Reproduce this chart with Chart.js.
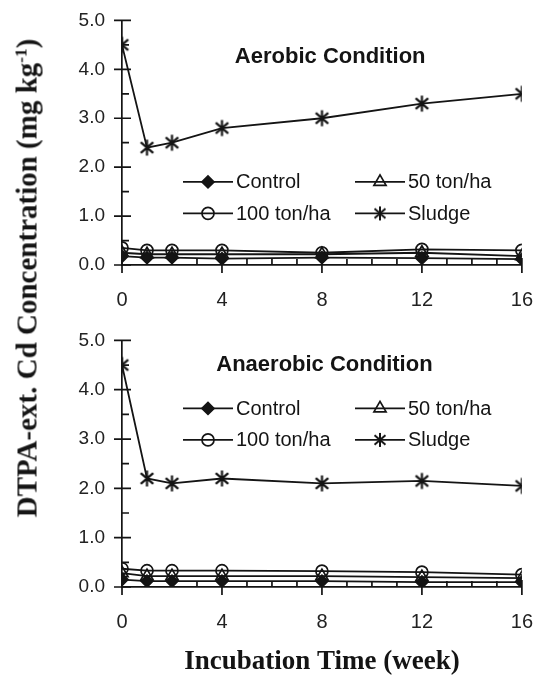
<!DOCTYPE html>
<html><head><meta charset="utf-8">
<script src="https://cdn.jsdelivr.net/npm/chart.js@4.4.0/dist/chart.umd.min.js"></script>
<style>
html,body{margin:0;padding:0;background:#fff;}
#wrap{position:relative;width:548px;height:679px;overflow:hidden;background:#fff;}
#c1{position:absolute;left:0;top:0;}
#c2{position:absolute;left:0;top:320px;}
#ytitle{position:absolute;left:27px;top:278px;transform:translate(-50%,-50%) rotate(-90deg);white-space:nowrap;font-family:'Liberation Serif','Times New Roman',serif;font-weight:bold;font-size:29px;line-height:1;color:#151515;}
#ytitle sup{font-size:0.6em;vertical-align:0.6em;line-height:0;}
</style></head>
<body>
<div id="wrap">
<canvas id="c1" width="548" height="320"></canvas>
<canvas id="c2" width="548" height="359"></canvas>
<div id="ytitle">DTPA-ext. Cd Concentration (mg kg<sup>-1</sup>)</div>
</div>
<script>
// ---- data ----
const weeks = [0, 1, 2, 4, 8, 12, 16];
const seriesLabels = ['Control', '50 ton/ha', '100 ton/ha', 'Sludge'];
const xTickValues = [0, 4, 8, 12, 16];
const yTickValues = [0, 1, 2, 3, 4, 5];
const panelTitles = ['Aerobic Condition', 'Anaerobic Condition'];
const xAxisTitle = 'Incubation Time (week)';

const aerobicControl = [0.18, 0.15, 0.15, 0.13, 0.15, 0.14, 0.12];
const aerobic50 = [0.25, 0.22, 0.22, 0.22, 0.22, 0.25, 0.18];
const aerobic100 = [0.35, 0.30, 0.30, 0.30, 0.25, 0.32, 0.30];
const aerobicSludge = [4.5, 2.4, 2.5, 2.8, 3.0, 3.3, 3.5];

const anaerobicControl = [0.15, 0.12, 0.12, 0.12, 0.12, 0.10, 0.10];
const anaerobic50 = [0.28, 0.22, 0.22, 0.22, 0.22, 0.20, 0.18];
const anaerobic100 = [0.37, 0.33, 0.33, 0.33, 0.32, 0.30, 0.25];
const anaerobicSludge = [4.5, 2.2, 2.1, 2.2, 2.1, 2.15, 2.05];

// ---- style ----
const INK = '#141414';
const SANS = "'Liberation Sans', Arial, sans-serif";
const SERIF = "'Liberation Serif', 'Times New Roman', serif";

function makeAsterisk(r, lw) {
  const s = Math.ceil(2 * r + lw + 2);
  const c = document.createElement('canvas');
  c.width = s; c.height = s;
  const g = c.getContext('2d');
  g.strokeStyle = INK; g.lineWidth = lw;
  const cx = s / 2, cy = s / 2;
  g.beginPath();
  g.moveTo(cx, cy - r); g.lineTo(cx, cy + r);
  const dx = r * 0.78, dy = r * 0.68;
  g.moveTo(cx - dx, cy - dy); g.lineTo(cx + dx, cy + dy);
  g.moveTo(cx - dx, cy + dy); g.lineTo(cx + dx, cy - dy);
  g.stroke();
  return c;
}
const starBig = makeAsterisk(8, 2.2);
const starLegend = makeAsterisk(7, 2);

const axisTicksPlugin = {
  id: 'axisTicks',
  beforeDatasetsDraw(chart, args, o) {
    const ctx = chart.ctx, xs = chart.scales.x, ys = chart.scales.y;
    const ax = xs.left, ay = ys.bottom;
    ctx.save();
    ctx.strokeStyle = INK; ctx.lineWidth = 1.7;
    ctx.beginPath();
    yTickValues.forEach(v => { const p = ys.getPixelForValue(v); ctx.moveTo(ax - 8, p); ctx.lineTo(ax + 9, p); });
    for (let v = ys.min; v <= ys.max; v += 0.5) {
      if (yTickValues.includes(v)) continue;
      const p = ys.getPixelForValue(v); ctx.moveTo(ax, p); ctx.lineTo(ax + 7, p);
    }
    xTickValues.forEach(v => { const p = xs.getPixelForValue(v); ctx.moveTo(p, ay + 8); ctx.lineTo(p, ay - 7); });
    for (let v = xs.min; v <= xs.max; v += 1) {
      if (xTickValues.includes(v)) continue;
      const p = xs.getPixelForValue(v); ctx.moveTo(p, ay); ctx.lineTo(p, ay - 6);
    }
    ctx.stroke();
    ctx.restore();
  }
};

const gridLegendPlugin = {
  id: 'gridLegend',
  afterDatasetsDraw(chart, args, o) {
    const ctx = chart.ctx, ca = chart.chartArea;
    ctx.save();
    chart.data.datasets.forEach((ds, i) => {
      const col = i % 2, row = Math.floor(i / 2);
      const x0 = ca.left + o.left + col * o.colWidth;
      const y = ca.top + o.top + row * o.rowGap;
      ctx.strokeStyle = ds.borderColor; ctx.lineWidth = ds.borderWidth;
      ctx.beginPath(); ctx.moveTo(x0, y); ctx.lineTo(x0 + o.lineLen, y); ctx.stroke();
      ctx.fillStyle = ds.pointBackgroundColor;
      ctx.strokeStyle = ds.pointBorderColor;
      ctx.lineWidth = ds.pointBorderWidth;
      Chart.helpers.drawPoint(ctx, {
        pointStyle: ds.legendPointStyle || ds.pointStyle,
        radius: ds.legendRadius || ds.pointRadius,
        rotation: 0, borderWidth: ds.pointBorderWidth
      }, x0 + o.lineLen / 2, y);
      ctx.fillStyle = INK; ctx.font = o.font;
      ctx.textAlign = 'left'; ctx.textBaseline = 'middle';
      ctx.fillText(ds.label, x0 + o.lineLen + o.gap, y + 1);
    });
    ctx.restore();
  }
};

const panelTitlePlugin = {
  id: 'panelTitle',
  afterDraw(chart, args, o) {
    const ctx = chart.ctx;
    ctx.save();
    ctx.fillStyle = INK; ctx.font = o.font;
    ctx.textAlign = 'center'; ctx.textBaseline = 'middle';
    ctx.fillText(o.text, chart.scales.x.getPixelForValue(o.x), chart.scales.y.getPixelForValue(o.y));
    ctx.restore();
  }
};

function pts(vals) { return weeks.map((w, i) => ({ x: w, y: vals[i] })); }

function makeChart(id, ctrl, t50, t100, sludge, cfg) {
  const base = { borderColor: INK, borderWidth: 1.8, pointBorderColor: INK, pointBorderWidth: 1.7, tension: 0, fill: false };
  return new Chart(document.getElementById(id), {
    type: 'line',
    data: {
      datasets: [
        Object.assign({}, base, { label: seriesLabels[0], data: pts(ctrl), pointStyle: 'rectRot', pointRadius: 6, pointBackgroundColor: INK }),
        Object.assign({}, base, { label: seriesLabels[1], data: pts(t50), pointStyle: 'triangle', pointRadius: 7, pointBackgroundColor: 'rgba(0,0,0,0)' }),
        Object.assign({}, base, { label: seriesLabels[2], data: pts(t100), pointStyle: 'circle', pointRadius: 6, pointBackgroundColor: 'rgba(0,0,0,0)' }),
        Object.assign({}, base, { label: seriesLabels[3], data: pts(sludge), pointStyle: starBig, legendPointStyle: starLegend, pointRadius: 8, pointBackgroundColor: INK })
      ]
    },
    options: {
      responsive: false,
      animation: false,
      events: [],
      layout: { padding: { top: cfg.padTop, right: 19, left: 0, bottom: 0 } },
      plugins: {
        legend: { display: false },
        tooltip: { enabled: false },
        gridLegend: { left: 61, top: cfg.legendTop, colWidth: 172, rowGap: 31.5, lineLen: 50, gap: 3, font: '20px ' + SANS },
        panelTitle: { text: cfg.title, x: cfg.titleX, y: cfg.titleY, font: 'bold 22px ' + SANS }
      },
      scales: {
        x: {
          type: 'linear', min: 0, max: 16,
          afterBuildTicks: s => { s.ticks = xTickValues.map(v => ({ value: v })); },
          afterFit: s => { s.height = cfg.xHeight; },
          grid: { display: false, drawTicks: true, tickLength: 8 },
          border: { display: true, color: INK, width: 1.7 },
          ticks: { padding: 15, color: '#222', font: { family: SANS, size: 20 }, maxRotation: 0 },
          title: cfg.xTitle ? { display: true, text: xAxisTitle, color: INK, font: { family: SERIF, size: 27, weight: 'bold', lineHeight: 1.2 }, padding: { top: 0, bottom: 1 } } : { display: false }
        },
        y: {
          min: 0, max: 5,
          afterBuildTicks: s => { s.ticks = yTickValues.map(v => ({ value: v })); },
          afterFit: s => { s.width = 122; },
          grid: { display: false, drawTicks: true, tickLength: 8 },
          border: { display: true, color: INK, width: 1.7 },
          ticks: { padding: 9, color: '#222', font: { family: SANS, size: 19 }, callback: v => Number(v).toFixed(1) }
        }
      }
    },
    plugins: [axisTicksPlugin, gridLegendPlugin, panelTitlePlugin]
  });
}

makeChart('c1', aerobicControl, aerobic50, aerobic100, aerobicSludge,
  { padTop: 16, xHeight: 55, legendTop: 161.5, title: panelTitles[0], titleX: 8.33, titleY: 4.26, xTitle: false });
makeChart('c2', anaerobicControl, anaerobic50, anaerobic100, anaerobicSludge,
  { padTop: 18, xHeight: 92, legendTop: 68, title: panelTitles[1], titleX: 8.1, titleY: 4.5, xTitle: true });
</script>
</body></html>
